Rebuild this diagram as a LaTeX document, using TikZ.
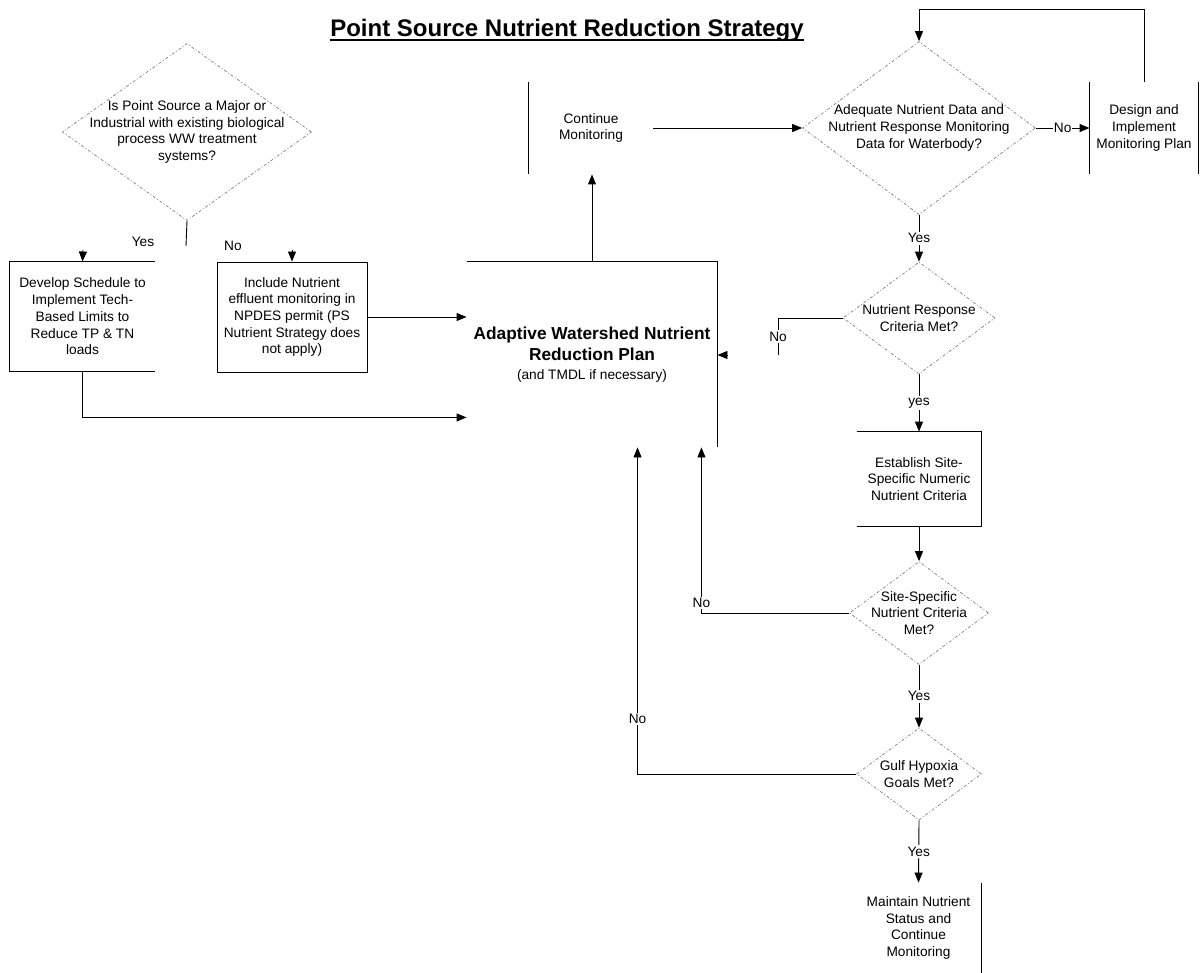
\documentclass[tikz,border=0pt]{standalone}
\usepackage{fontspec}
\setmainfont{Liberation Sans}
\usetikzlibrary{shapes.geometric,arrows.meta,calc}
\newcommand\planfont[1]{{\bfseries\fontsize{17.3}{21}\selectfont #1}}

\begin{document}
\begin{tikzpicture}[x=1pt,y=-1pt,line width=0.9pt,
  every node/.style={font=\fontsize{13.7}{16.7}\selectfont},
  decnode/.style={diamond,draw=gray,line width=0.7pt,dash pattern=on 3pt off 2pt on 1pt off 2pt,inner sep=0pt},
  boxnode/.style={rectangle,inner sep=0pt,align=center},
  lbl/.style={fill=white,inner sep=1.5pt},
  arr/.style={-{Triangle[length=10pt,width=8pt]}}
]
\useasboundingbox (0,0) rectangle (1202,973);

% the title
\node[font=\bfseries\fontsize{24}{28}\selectfont,inner sep=0pt,anchor=base] (title) at (567,37) {Point Source Nutrient Reduction Strategy};
\draw[line width=1.4pt] ([yshift=-3pt]title.base west) -- ([yshift=-3pt]title.base east);

% the decisions
\node[decnode,minimum width=249pt,minimum height=177pt,
  label={[align=center]center:{Is Point Source a Major or\\Industrial with existing biological\\process WW treatment\\systems?}}] (q1) at (187,132) {};
\node[decnode,minimum width=233pt,minimum height=173pt,
  label={[align=center]center:{Adequate Nutrient Data and\\Nutrient Response Monitoring\\Data for Waterbody?}}] (adq) at (919,128) {};
\node[decnode,minimum width=152pt,minimum height=112pt,
  label={[align=center]center:{Nutrient Response\\Criteria Met?}}] (nrc) at (919,318) {};
\node[decnode,minimum width=139pt,minimum height=103pt,
  label={[align=center]center:{Site-Specific\\Nutrient Criteria\\Met?}}] (site) at (919,613) {};
\node[decnode,minimum width=125pt,minimum height=92pt,
  label={[align=center]center:{Gulf Hypoxia\\Goals Met?}}] (gulf) at (919,774) {};

% the boxes
\node[boxnode,minimum width=145pt,minimum height=109pt] (dev) at (82.5,316.5) {Develop Schedule to\\Implement Tech-\\Based Limits to\\Reduce TP \& TN\\loads};
\node[boxnode,draw,minimum width=150pt,minimum height=110pt] (inc) at (292,317) {Include Nutrient\\effluent monitoring in\\NPDES permit (PS\\Nutrient Strategy does\\not apply)};
\node[boxnode,minimum width=250pt,minimum height=185pt] (adp) at (592,354.5) {\planfont{Adaptive Watershed Nutrient}\\[4.3pt]\planfont{Reduction Plan}\\[2.3pt](and TMDL if necessary)};
\node[boxnode,minimum width=124pt,minimum height=92pt] (cont) at (591,128) {Continue\\Monitoring};
\node[boxnode,minimum width=108pt,minimum height=92pt] (dsg) at (1144,128) {Design and\\Implement\\Monitoring Plan};
\node[boxnode,minimum width=124pt,minimum height=94pt] (est) at (919,479) {Establish Site-\\Specific Numeric\\Nutrient Criteria};
\node[boxnode,minimum width=125pt,minimum height=90pt] (mnt) at (918.5,928) {Maintain Nutrient\\Status and\\Continue\\Monitoring};

% the box sides that show
\draw (dev.north east) -- (dev.north west) -- (dev.south west) -- (dev.south east);
\draw (adp.north west) -- (adp.north east) -- (adp.south east);
\draw (cont.north west) -- (cont.south west);
\draw (dsg.north west) -- (dsg.south west) (dsg.north east) -- (dsg.south east);
\draw (est.north west) -- (est.north east) -- (est.south east) -- (est.south west);
\draw (mnt.north east) -- (mnt.south east);

% the free ends
\coordinate (q1stub) at (186,246);
\coordinate (devin) at (83,250);
\coordinate (incin) at (292,250);
\coordinate (nrcno) at (778,355);
\coordinate (adpin) at (728,355);

% the edges
\draw (q1.south) -- (q1stub);
\node (q1yes) at (143,242) {Yes};
\node (q1no) at (233,246) {No};
\draw[arr] (devin) -- (dev.north);
\draw[arr] (incin) -- (inc.north);
\draw[arr] (inc.east) -- (inc.east -| adp.west);
\draw[arr] (dev.south) |- ($(adp.south west)+(0,-30)$);
\draw[arr] (adp.north) -- (adp.north |- cont.south);
\draw[arr] (cont.east) -- (adq.west);
\draw[arr] (adq.east) -- node[lbl,inner sep=1pt] {No} (dsg.west);
\draw[arr] (dsg.north) |- ($(adq.north)+(0,-32)$) -- (adq.north);
\draw[arr] (adq.south) -- node[lbl] {Yes} (nrc.north);
\draw[arr] (nrc.south) -- node[lbl] {yes} (est.north);
\draw[arr] (est.south) -- (site.north);
\draw[arr] (site.south) -- node[lbl] {Yes} (gulf.north);
\draw[arr] (gulf.south) -- node[lbl] {Yes} (mnt.north);
\draw (nrc.west) -| node[lbl,pos=0.75] {No} (nrcno);
\draw[arr] (adpin) -- (adpin -| adp.east);
\draw[arr] (site.west) -| node[lbl,pos=0.53] {No} ($(adp.south east)+(-16,0)$);
\draw[arr] (gulf.west) -| node[lbl,pos=0.584] {No} ($(adp.south west)+(171,0)$);

%%\draw (adp.south west) -- (adp.south east);
\end{tikzpicture}
\end{document}
